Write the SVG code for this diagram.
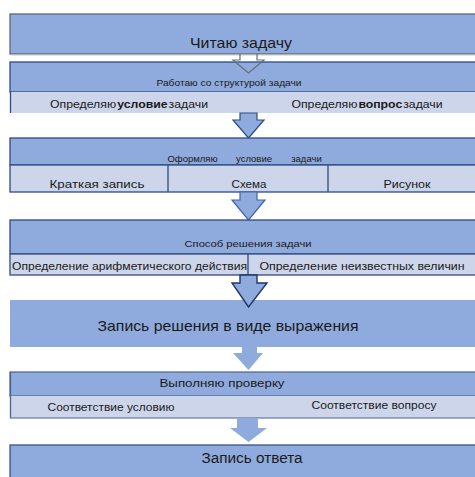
<svg xmlns="http://www.w3.org/2000/svg" width="475" height="477" viewBox="0 0 475 477">
<style>
text{font-family:"Liberation Sans",Arial,sans-serif;fill:#1a1a1a;text-anchor:middle;dominant-baseline:central}
.b{fill:#8faadc}
.l{fill:#cdd5ea}
.bd{stroke:#2f4b84;stroke-width:1.3}
.s10{font-size:9.5px}
.s11{font-size:11.5px}
.s15{font-size:15px}
</style>
<rect width="475" height="477" fill="#fff"/>
<g id="n1">
  <rect x="10" y="14" width="470" height="40" class="b" stroke="#5f6876" stroke-width="1.3"/>
  <line x1="10.5" y1="55" x2="475" y2="55" stroke="#c8c8c8" stroke-width="1"/>
  <text x="241" y="42" class="s15" textLength="102" lengthAdjust="spacingAndGlyphs">Читаю задачу</text>
</g>
<g id="n2">
  <rect x="10" y="62" width="470" height="30" class="b bd"/>
  <rect x="10" y="92" width="470" height="21" class="l"/>
  <line x1="10.5" y1="92" x2="10.5" y2="113" stroke="#2f4b84" stroke-width="1.3"/>
  <text x="229" y="82" class="s10" textLength="145" lengthAdjust="spacingAndGlyphs">Работаю со структурой задачи</text>
  <text x="129" y="104" class="s11" textLength="158" lengthAdjust="spacingAndGlyphs"><tspan>Определяю</tspan><tspan dx="1" font-weight="bold">условие</tspan><tspan dx="1">задачи</tspan></text>
  <text x="367" y="104" class="s11" textLength="151" lengthAdjust="spacingAndGlyphs"><tspan>Определяю</tspan><tspan dx="1" font-weight="bold">вопрос</tspan><tspan dx="1">задачи</tspan></text>
</g>
<g id="connectors">
  <path id="a1" d="M240,54 V60 H233 L248.5,73 L264,60 H257 V54" fill="none" stroke="#66707e" stroke-width="1.2"/>
  <path id="a2" d="M240,113 V120 H233 L248.5,138 L264,120 H257 V113 Z" class="b" stroke="#2f4b84" stroke-width="1.2"/>
</g>
<g id="n3">
  <rect x="10" y="138" width="470" height="27" class="b bd"/>
  <rect x="10" y="165" width="470" height="27" class="l bd"/>
  <line x1="168" y1="165" x2="168" y2="192" class="bd"/>
  <line x1="328" y1="165" x2="328" y2="192" class="bd"/>
  <text y="158" class="s10"><tspan x="192.5">Оформляю</tspan><tspan x="254">условие</tspan><tspan x="306.5">задачи</tspan></text>
  <text x="97" y="184" class="s11" textLength="95" lengthAdjust="spacingAndGlyphs">Краткая запись</text>
  <text x="249" y="184" class="s11" textLength="35" lengthAdjust="spacingAndGlyphs">Схема</text>
  <text x="407" y="184" class="s11" textLength="47" lengthAdjust="spacingAndGlyphs">Рисунок</text>
</g>
<g id="connectors3">
  <path id="a3" d="M240,192 V200 H232 L248.5,220 L265,200 H257 V192 Z" class="b" stroke="#3f64ad" stroke-width="1.2"/>
</g>
<g id="n4">
  <rect x="10" y="220" width="470" height="34" class="b bd"/>
  <rect x="10" y="254" width="470" height="21" class="l bd"/>
  <line x1="248" y1="254" x2="248" y2="275" class="bd"/>
  <text x="248" y="243" class="s10" textLength="127" lengthAdjust="spacingAndGlyphs">Способ решения задачи</text>
  <text x="129.5" y="266" class="s11" textLength="235" lengthAdjust="spacingAndGlyphs">Определение арифметического действия</text>
  <text x="362" y="266" class="s11" textLength="205" lengthAdjust="spacingAndGlyphs">Определение неизвестных величин</text>
</g>
<g id="n5">
  <rect x="10" y="300" width="470" height="47" class="b"/>
  <text x="228" y="325" class="s15" textLength="261" lengthAdjust="spacingAndGlyphs">Запись решения в виде выражения</text>
</g>
<g id="connectors4">
  <path id="a4" d="M240,275 V283 H232 L248.5,307 L267,283 H257 V275 Z" class="b" stroke="#1f3663" stroke-width="1.4"/>
  <path id="a5" d="M242,347 V353 H233 L248.5,370 L263,353 H257 V347 Z" class="b"/>
</g>
<g id="n6">
  <rect x="10" y="372" width="470" height="24" class="b" stroke="#4a638f" stroke-width="1.2"/>
  <rect x="10" y="396" width="470" height="22" class="l"/>
  <line x1="10.5" y1="372" x2="10.5" y2="418" stroke="#4a638f" stroke-width="1.3"/>
  <line x1="10" y1="418" x2="475" y2="418" stroke="#4a638f" stroke-width="1"/>
  <text x="222" y="383" class="s11" textLength="125" lengthAdjust="spacingAndGlyphs">Выполняю проверку</text>
  <text x="111" y="407" class="s11" textLength="127" lengthAdjust="spacingAndGlyphs">Соответствие условию</text>
  <text x="374" y="405" class="s11" textLength="125" lengthAdjust="spacingAndGlyphs">Соответствие вопросу</text>
</g>
<g id="connectors5">
  <path id="a6" d="M237,418 V428 H230 L248.5,442 L267,428 H258 V418 Z" class="b"/>
</g>
<g id="n7">
  <rect x="10" y="445" width="470" height="40" class="b" stroke="#3a5487" stroke-width="1.3"/>
  <text x="252" y="458" font-size="14" textLength="101" lengthAdjust="spacingAndGlyphs">Запись ответа</text>
</g>
</svg>
